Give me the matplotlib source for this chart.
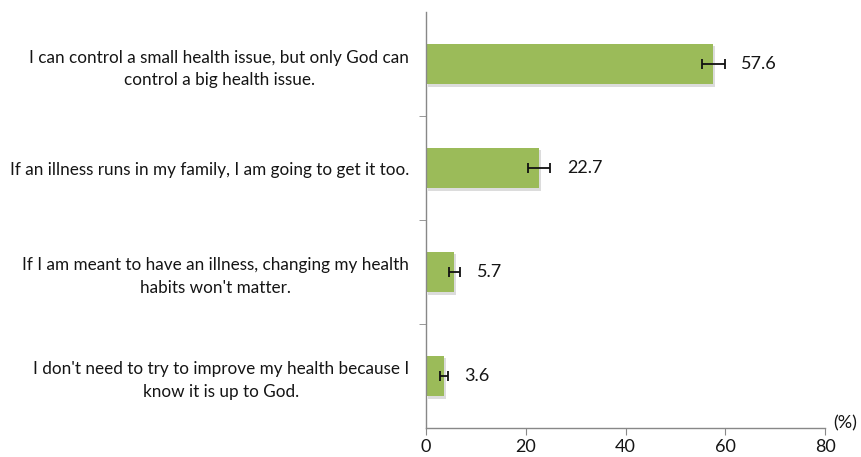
import matplotlib
matplotlib.use('Agg')
import numpy as np
from matplotlib import pyplot as plt

labels = ["I can control a small health issue, but only God can\ncontrol a big health issue.",
          "If an illness runs in my family, I am going to get it too.",
          "If I am meant to have an illness, changing my health\nhabits won't matter.",
          "I don't need to try to improve my health because I\nknow it is up to God."]
values = [57.6, 22.7, 5.7, 3.6]
errors = [2.3, 2.2, 1.1, 0.8]
xticks = [0, 20, 40, 60, 80]

plt.rcParams['font.family'] = ['Lato', 'DejaVu Sans']
txt = '#151515'
green = '#9BBB59'

fig = plt.figure(figsize=(8.62, 4.57), dpi=100)
ax = fig.add_axes([0.4942, 0.0635, 0.9571 - 0.4942, 0.9737 - 0.0635])

y = np.arange(len(values))
# soft shadow under bars
ax.barh(y + 0.025, values, height=0.39, left=0.4, color='#dcdcdc', zorder=1)
ax.barh(y, values, height=0.39, color=green, zorder=2)
ax.errorbar(values, y, xerr=errors, fmt='none', ecolor='#111111',
            elinewidth=1.3, capsize=3.5, capthick=1.3, zorder=3)
for v, e, yy in zip(values, errors, y):
    ax.annotate('%.1f' % v, xy=(v + e, yy), xytext=(12, 0), textcoords='offset points',
                va='center', ha='left', fontsize=13, color=txt)

ax.set_xlim(0, 80)
ax.set_ylim(len(values) - 0.5, -0.5)
ax.set_xticks(xticks)
ax.set_xticklabels([str(t) for t in xticks], fontsize=13, color=txt)
ax.set_yticks(y)
ax.set_yticklabels(labels, fontsize=12.3, color=txt, multialignment='center',
                   linespacing=1.5)
ax.tick_params(axis='y', which='major', length=0, pad=12)
ax.set_yticks(np.arange(0.5, len(values) - 0.5), minor=True)
ax.tick_params(axis='y', which='minor', length=5, color='#888888', direction='out')
ax.tick_params(axis='x', length=5, color='#888888', direction='out', pad=3)

for s in ['top', 'right']:
    ax.spines[s].set_visible(False)
for s in ['left', 'bottom']:
    ax.spines[s].set_color('#888888')
    ax.spines[s].set_linewidth(1)

ax.text(1.02, 0.012, '(%)', transform=ax.transAxes, fontsize=13, color=txt,
        ha='left', va='center')

plt.savefig('out.png', dpi=100)
